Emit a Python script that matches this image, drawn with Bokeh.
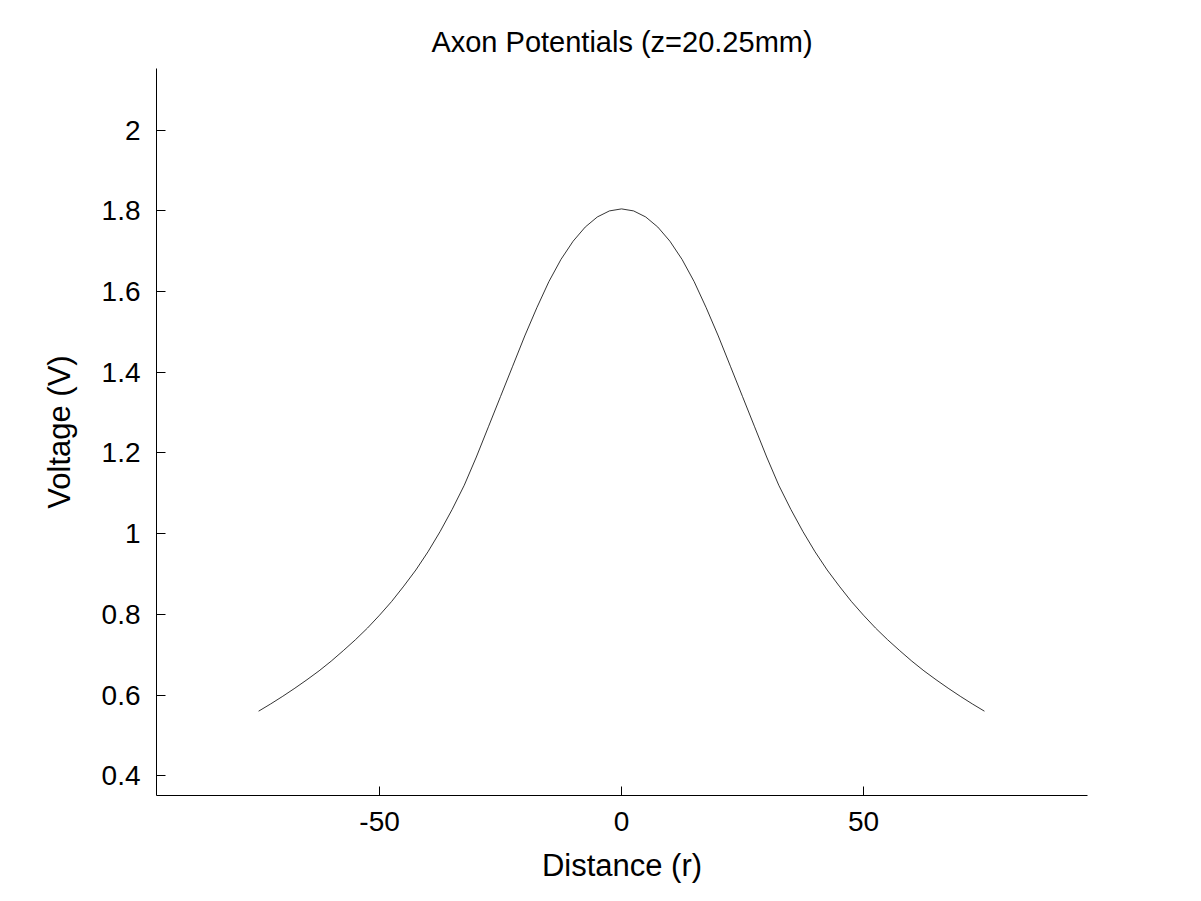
from bokeh.plotting import figure
from bokeh.models import FixedTicker, Range1d
from bokeh.embed import file_html
from bokeh.resources import INLINE

r_pos = [0, 2.5, 5, 7.5, 10, 12.5, 15, 17.5, 20, 22.5, 25, 27.5, 30, 32.5, 35, 37.5, 40, 42.5, 45, 47.5, 50, 52.5, 55, 57.5, 60, 62.5, 65, 67.5, 70, 72.5, 75]
v_pos = [1.805, 1.80, 1.785, 1.76, 1.725, 1.68, 1.625, 1.56, 1.49, 1.415, 1.34, 1.265, 1.19, 1.12, 1.06, 1.005, 0.955, 0.91, 0.87, 0.832, 0.798, 0.766, 0.737, 0.71, 0.684, 0.66, 0.638, 0.617, 0.597, 0.578, 0.56]
r = [-x for x in r_pos[::-1]] + r_pos[1:]
v = v_pos[::-1] + v_pos[1:]

xticks = [-50, 0, 50]
xlabels = {-50: "-50", 0: "0", 50: "50"}
yticks = [0.4, 0.6, 0.8, 1.0, 1.2, 1.4, 1.6, 1.8, 2.0]
ylabels = {0.4: "0.4", 0.6: "0.6", 0.8: "0.8", 1.0: "1", 1.2: "1.2", 1.4: "1.4", 1.6: "1.6", 1.8: "1.8", 2.0: "2"}

F = "Liberation Sans"
p = figure(width=1185, height=885, output_backend="svg", toolbar_location=None,
           x_range=Range1d(-96.1, 96.3), y_range=Range1d(0.351, 2.153),
           min_border_left=156, min_border_right=98, min_border_top=68, min_border_bottom=85,
           title="Axon Potentials (z=20.25mm)")
p.title.align = "center"
p.title.text_font = F
p.title.text_font_size = "29px"
p.title.text_font_style = "normal"
p.title.text_color = "black"
p.title.standoff = 22
p.outline_line_color = None
p.grid.visible = False
p.line(r, v, line_color="black", line_width=0.8)

for ax in (p.xaxis[0], p.yaxis[0]):
    ax.major_label_text_font = F
    ax.major_label_text_font_size = "28px"
    ax.major_label_text_color = "black"
    ax.axis_label_text_font = F
    ax.axis_label_text_font_size = "31px"
    ax.axis_label_text_font_style = "normal"
    ax.axis_label_text_color = "black"
    ax.major_tick_in = 9
    ax.major_tick_out = 0
    ax.major_label_standoff = 16
    ax.minor_tick_line_color = None
    ax.axis_line_color = "black"
    ax.major_tick_line_color = "black"
p.xaxis[0].ticker = FixedTicker(ticks=xticks)
p.xaxis[0].major_label_overrides = xlabels
p.yaxis[0].ticker = FixedTicker(ticks=yticks)
p.yaxis[0].major_label_overrides = ylabels
p.xaxis.axis_label = "Distance (r)"
p.xaxis.axis_label_standoff = 14
p.yaxis.axis_label = "Voltage (V)"
p.yaxis.axis_label_standoff = 22
p.yaxis.major_label_orientation = "horizontal"

open("out.html", "w").write(file_html(p, INLINE))
